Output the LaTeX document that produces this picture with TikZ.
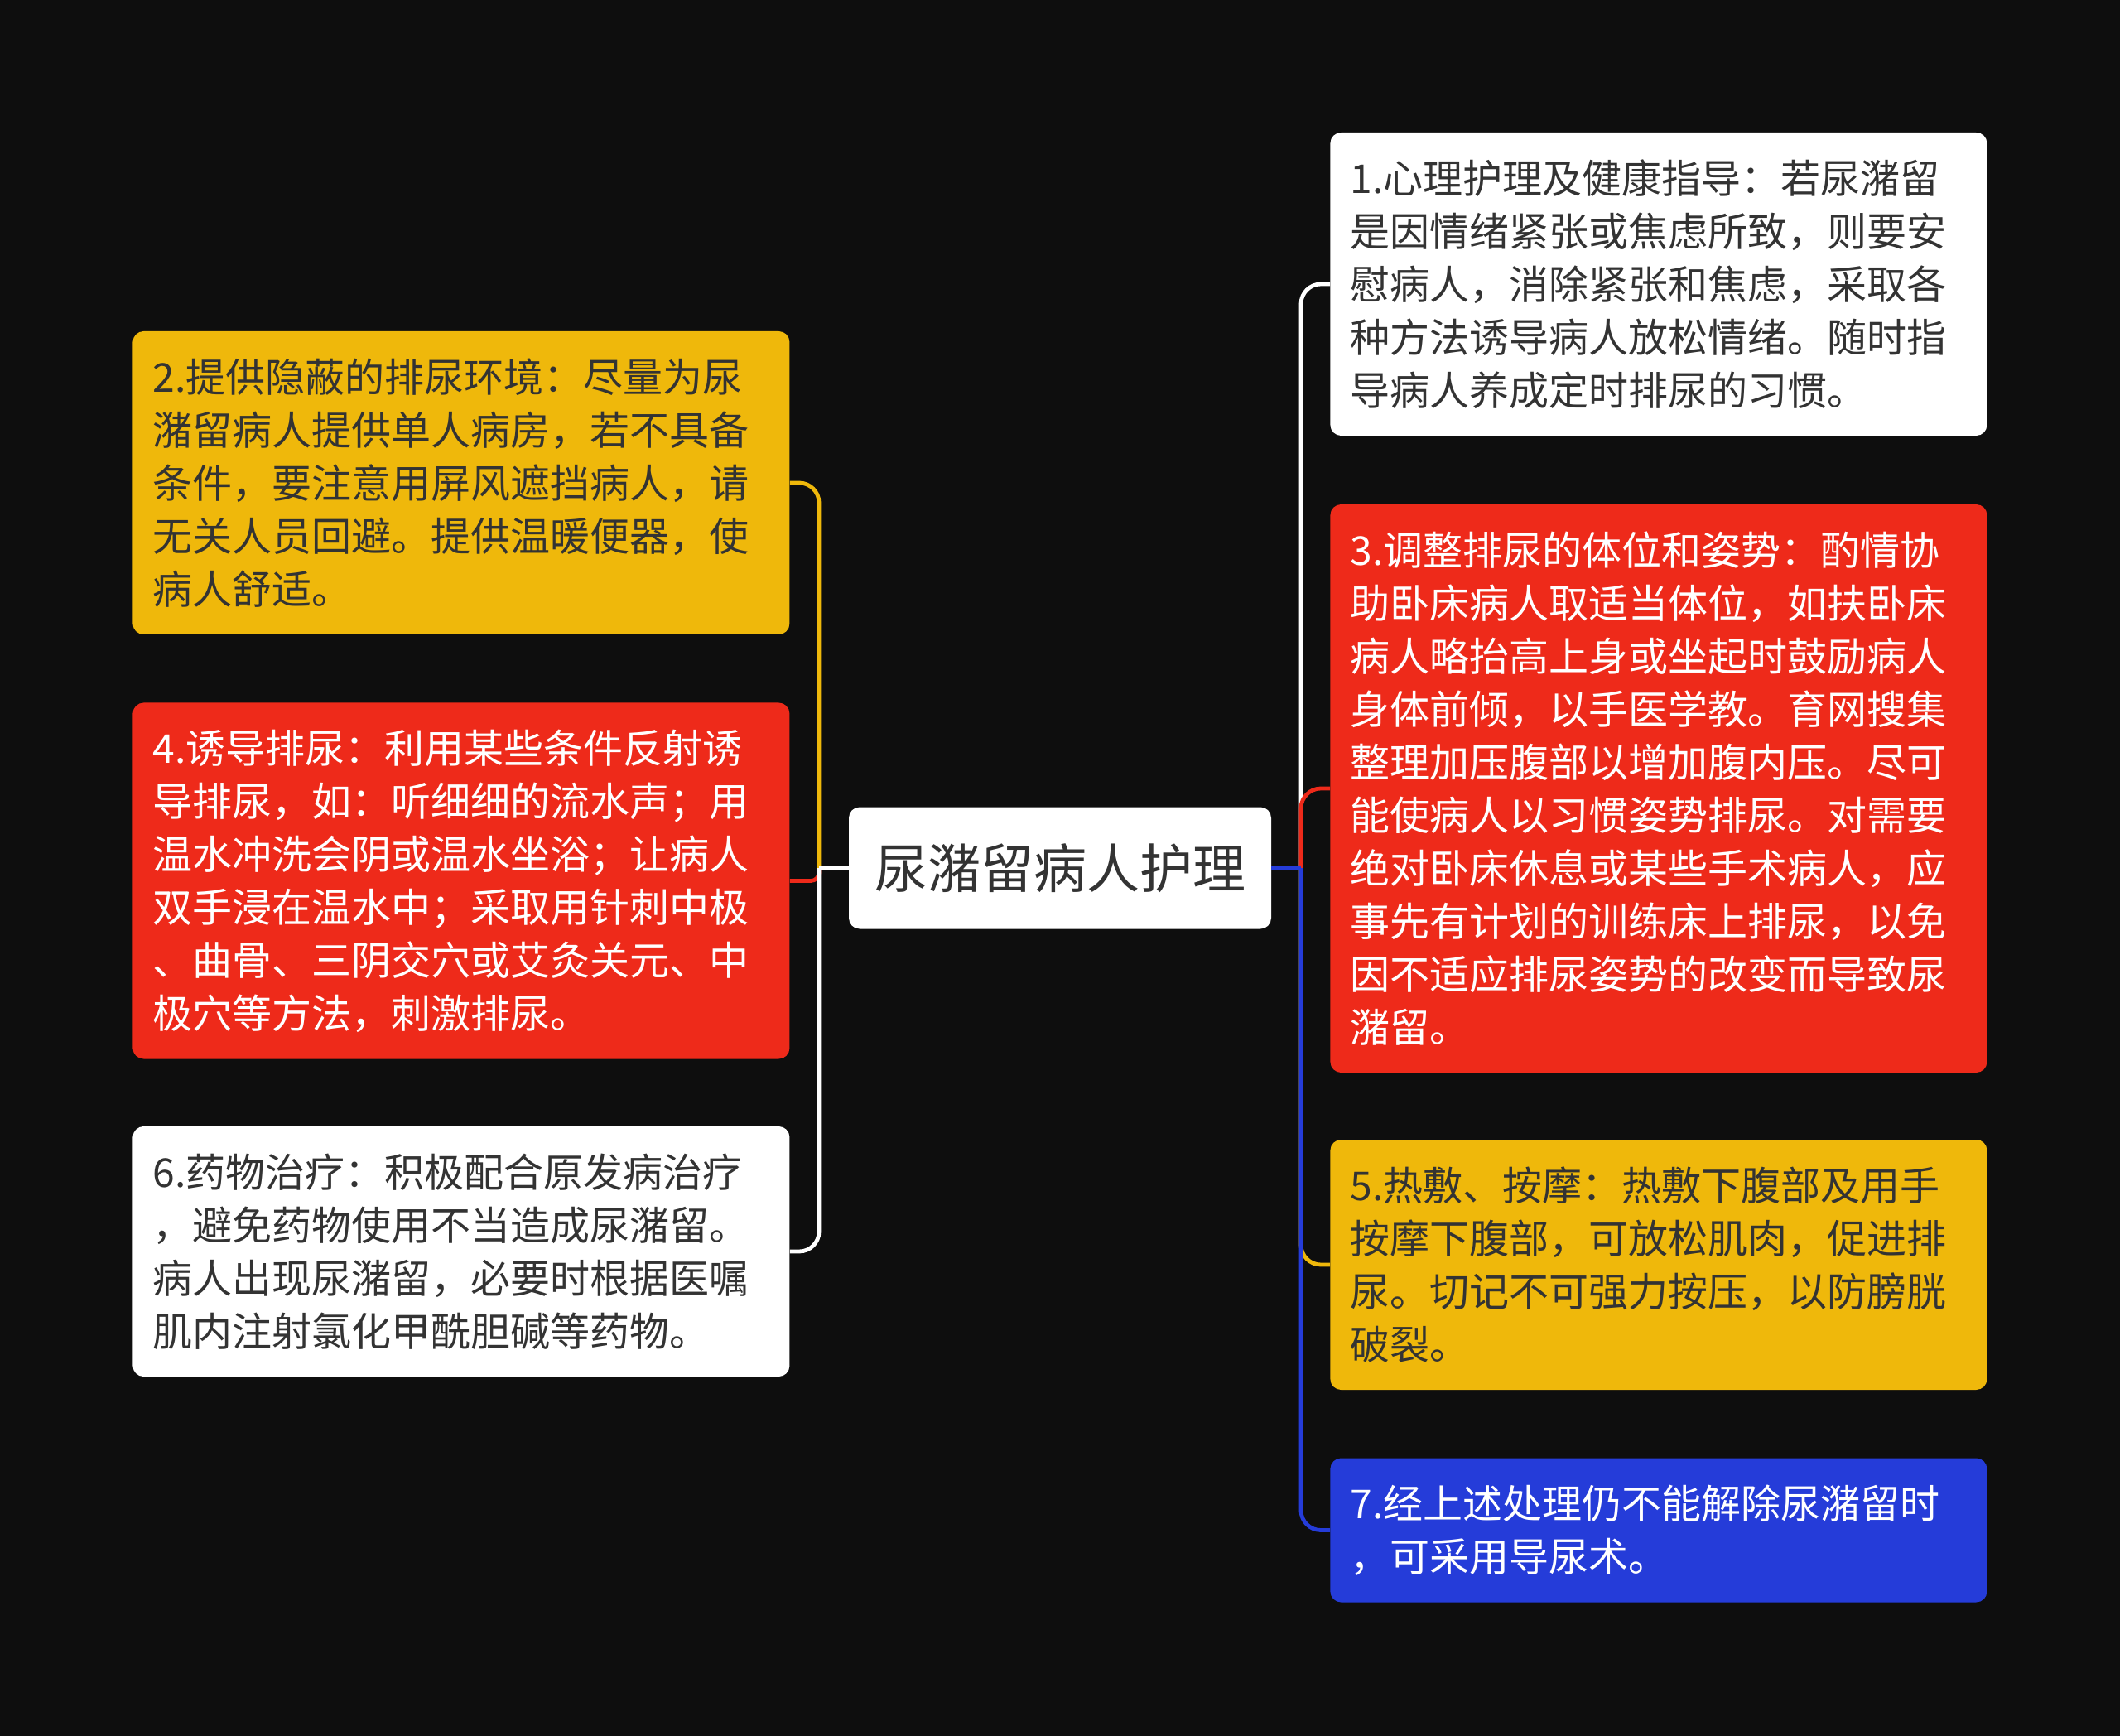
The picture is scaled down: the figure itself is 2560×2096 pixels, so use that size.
\documentclass[tikz,border=0pt]{standalone}
\usepackage{fontspec}
\newfontfamily\cjk{Noto Sans CJK SC}
\definecolor{bgC}{HTML}{0E0E0E}
\definecolor{yC}{HTML}{EFB80B}
\definecolor{rC}{HTML}{EE2A1A}
\definecolor{bC}{HTML}{253CD9}
\definecolor{tC}{HTML}{333333}
\tikzstyle{cS}=[rectangle,rounded corners=6.5pt,fill=white,text=tC,minimum width=255pt,minimum height=73.5pt,inner sep=0pt,font=\cjk\fontsize{32pt}{38pt}\selectfont]
\tikzstyle{bS}=[rectangle,rounded corners=6.5pt,anchor=west,text width=372.5pt,inner xsep=12pt,inner ysep=3pt,align=left,font=\cjk\fontsize{24pt}{32pt}\selectfont]
\tikzstyle{nW}=[bS,fill=white,text=tC]
\tikzstyle{nY}=[bS,fill=yC,text=tC]
\tikzstyle{nR}=[bS,fill=rC,text=white]
\tikzstyle{nB}=[bS,fill=bC,text=white]
\tikzstyle{eS}=[line width=2.4pt,rounded corners=12pt]

\begin{document}
\begin{tikzpicture}[x=0.5pt,y=-0.5pt]
                \fill[bgC] (0,0) rectangle (2560,2096);
                \draw (1280,1048) node[cS] (n0) {尿潴留病人护理};
                % right side
                \draw (1606,343) node[nW,minimum height=183pt] (n1) {1.心理护理及健康指导：若尿潴留\\是因情绪紧张或焦虑所致，则要安\\慰病人，消除紧张和焦虑，采取各\\种方法诱导病人放松情绪。随时指\\导病人养成定时排尿的习惯。};
                \draw (1606,952) node[nR,minimum height=343pt] (n3) {3.调整排尿的体位和姿势：酌情协\\助卧床病人取适当体位，如扶卧床\\病人略抬高上身或坐起时鼓励病人\\身体前倾，以手医学教。育网搜集\\整理加压腹部以增加腹内压。尽可\\能使病人以习惯姿势排尿。对需要\\绝对卧床休息或某些手术病人，应\\事先有计划的训练床上排尿，以免\\因不适应排尿姿势的改变而导致尿\\潴留。};
                \draw (1606,1527) node[nY,minimum height=151pt] (n5) {5.热敷、按摩：热敷下腹部及用手\\按摩下腹部，可放松肌肉，促进排\\尿。切记不可强力按压，以防膀胱\\破裂。};
                \draw (1606,1847.5) node[nB,minimum height=87pt] (n7) {7.经上述处理仍不能解除尿潴留时\\，可采用导尿术。};
                % left side
                \draw (160,583) node[nY,minimum height=183pt] (n2) {2.提供隐蔽的排尿环境：尽量为尿\\潴留病人提供单人病房，若不具备\\条件，要注意用屏风遮挡病人，请\\无关人员回避。提供温暖便器，使\\病人舒适。};
                \draw (160,1063.5) node[nR,minimum height=215pt] (n4) {4.诱导排尿：利用某些条件反射诱\\导排尿，如：听细细的流水声；用\\温水冲洗会阴或温水坐浴；让病人\\双手浸在温水中；采取用针刺中极\\、曲骨、三阴交穴或艾灸关元、中\\极穴等方法，刺激排尿。};
                \draw (160,1511) node[nW,minimum height=151pt] (n6) {6.药物治疗：积极配合原发病治疗\\，避免药物使用不当造成尿潴留。\\病人出现尿潴留，必要时根据医嘱\\肌内注射氯化甲酰胆碱等药物。};
                \coordinate (lT) at (989,1048);
                \coordinate (rT) at (1571,1048);
                \path
                    (lT) edge[eS,draw=yC,to path={|- (\tikztotarget)}] (n2.east)
                    (lT) edge[eS,draw=rC,rounded corners=5pt,to path={|- (\tikztotarget)}] (n4.east)
                    (lT) edge[eS,draw=white,to path={|- (\tikztotarget)}] (n6.east)
                    (n0.west) edge[eS,draw=white] (lT)
                    (rT) edge[eS,draw=white,to path={|- (\tikztotarget)}] (n1.west)
                    (rT) edge[eS,draw=rC,to path={|- (\tikztotarget)}] (n3.west)
                    (rT) edge[eS,draw=yC,to path={|- (\tikztotarget)}] (n5.west)
                    (rT) edge[eS,draw=bC,to path={|- (\tikztotarget)}] (n7.west)
                    (n0.east) edge[eS,draw=bC] (rT)
                ;
        \end{tikzpicture}
\end{document}
